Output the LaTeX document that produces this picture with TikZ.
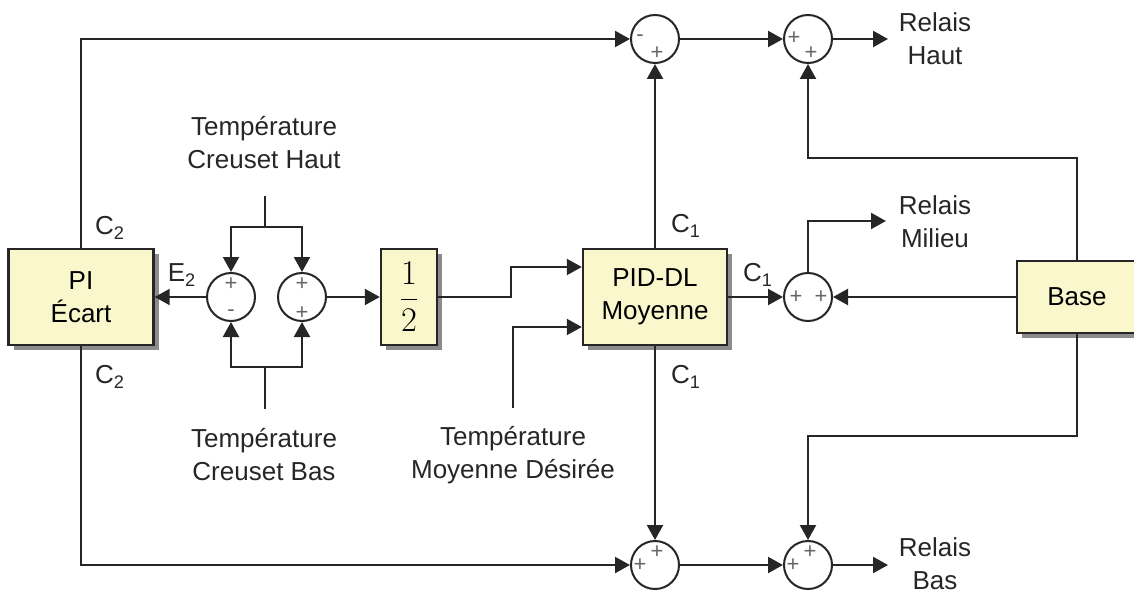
\documentclass[tikz,border=0pt]{standalone}
\usepackage{amsmath}
\usepackage{fontspec}
\setmainfont{Liberation Sans}
\usetikzlibrary{positioning,calc,arrows.meta,shadows}

\definecolor{boxfill}{RGB}{250,247,205}

\begin{document}
\begin{tikzpicture}[x=0.5pt,y=-0.5pt]
\tikzset{
  block/.style={draw=black!85, line width=1.2pt, fill=boxfill, align=center,
    drop shadow={shadow xshift=2.5pt, shadow yshift=-2.5pt, fill=black!45, opacity=1},
    font=\fontsize{13}{16.5}\selectfont},
  sumnode/.style={circle, draw=black!85, line width=1pt, fill=white, minimum size=24pt, inner sep=0pt},
  sign/.style={font=\fontsize{11}{11}\selectfont, text=black!60, inner sep=0pt},
  txt/.style={align=center, font=\fontsize{13}{16.5}\selectfont, text=black!85},
  wire/.style={line width=1.1pt, draw=black!85},
  feed/.style={wire, -{Triangle[length=7.5pt,width=8pt]}}
}
\useasboundingbox (0,0) rectangle (1134,593);

% blocs
\node[block, minimum width=72.5pt, minimum height=48pt] (pi) at (81,297) {PI\\Écart};
\node[block, minimum width=28pt, minimum height=48pt, font=\fontsize{17}{20}\selectfont] (half) at (409,297) {$\displaystyle\frac{1}{2}$};
\node[block, minimum width=72pt, minimum height=48pt] (pid) at (655,297) {PID-DL\\Moyenne};
\node[block, minimum width=60pt, minimum height=36pt] (base) at (1077,297) {Base};

% sommateurs
\node[sumnode] (s1) at (231,297) {};
\node[sumnode] (s2) at (302,297) {};
\node[sumnode] (sA) at (655,39) {};
\node[sumnode] (sB) at (808,39) {};
\node[sumnode] (sM) at (808,297) {};
\node[sumnode] (sC) at (655,565) {};
\node[sumnode] (sD) at (808,565) {};

\node[sign] at ($(s1)+(0,-13)$) {+};
\node[sign] at ($(s1)+(0,16)$) {-};
\node[sign] at ($(s2)+(0,-13)$) {+};
\node[sign] at ($(s2)+(0,16)$) {+};
\node[sign] at ($(sA)+(-15,-1)$) {-};
\node[sign] at ($(sA)+(2,14)$) {+};
\node[sign] at ($(sB)+(-14,-1)$) {+};
\node[sign] at ($(sB)+(3,14)$) {+};
\node[sign] at ($(sM)+(-12,0)$) {+};
\node[sign] at ($(sM)+(13,0)$) {+};
\node[sign] at ($(sC)+(-15,0)$) {+};
\node[sign] at ($(sC)+(2,-13)$) {+};
\node[sign] at ($(sD)+(-15,0)$) {+};
\node[sign] at ($(sD)+(2,-13)$) {+};

% textes
\node[txt] (tHaut) at (264,143) {Température\\Creuset Haut};
\node[txt] (tBas) at (264,455) {Température\\Creuset Bas};
\node[txt] (tMoy) at (513,455) {Température\\Moyenne Désirée};
\node[txt] (rHaut) at (935,39) {Relais\\Haut};
\node[txt] (rMil) at (935,222) {Relais\\Milieu};
\node[txt] (rBas) at (935,564) {Relais\\Bas};

\node[txt] (c2h) at (110,228) {C\textsubscript{2}};
\node[txt] (c2b) at (110,377) {C\textsubscript{2}};
\node[txt] (e2) at (182,275) {E\textsubscript{2}};
\node[txt] (c1h) at (686,226) {C\textsubscript{1}};
\node[txt] (c1b) at (686,377) {C\textsubscript{1}};
\node[txt] (c1d) at (758,275) {C\textsubscript{1}};

% points libres
\coordinate (fH) at (265,196);
\coordinate (jH) at (265,227);
\coordinate (fB) at (265,409);
\coordinate (jB) at (265,367);
\coordinate (kMoy) at (513,408);
\coordinate (kHalf) at (511,297);
\coordinate (kB) at (1077,158);
\coordinate (kD) at (1077,436);
\coordinate (oHaut) at (888,39);
\coordinate (oMil) at (886,221);
\coordinate (oBas) at (888,565);

% liaisons
\draw[wire] (fH) -- (jH);
\draw[feed] (jH) -| (s1.north);
\draw[feed] (jH) -| (s2.north);
\draw[wire] (fB) -- (jB);
\draw[feed] (jB) -| (s1.south);
\draw[feed] (jB) -| (s2.south);
\draw[feed] (s1.west) -- (pi.east);
\draw[feed] (s2.east) -- (half.west);
\draw[feed] (half.east) -- (kHalf) |- ($(pid.west)+(0,-30)$);
\draw[feed] (kMoy) |- ($(pid.west)+(0,30)$);
\draw[feed] (pi.north) |- (sA.west);
\draw[feed] (pi.south) |- (sC.west);
\draw[feed] (pid.north) -- (sA.south);
\draw[feed] (pid.south) -- (sC.north);
\draw[feed] (pid.east) -- (sM.west);
\draw[feed] (base.west) -- (sM.east);
\draw[feed] (sM.north) |- (oMil);
\draw[feed] (sA.east) -- (sB.west);
\draw[feed] (sC.east) -- (sD.west);
\draw[feed] (sB.east) -- (oHaut);
\draw[feed] (sD.east) -- (oBas);
\draw[feed] (base.north) -- (kB) -| (sB.south);
\draw[feed] (base.south) -- (kD) -| (sD.north);
\end{tikzpicture}
\end{document}
